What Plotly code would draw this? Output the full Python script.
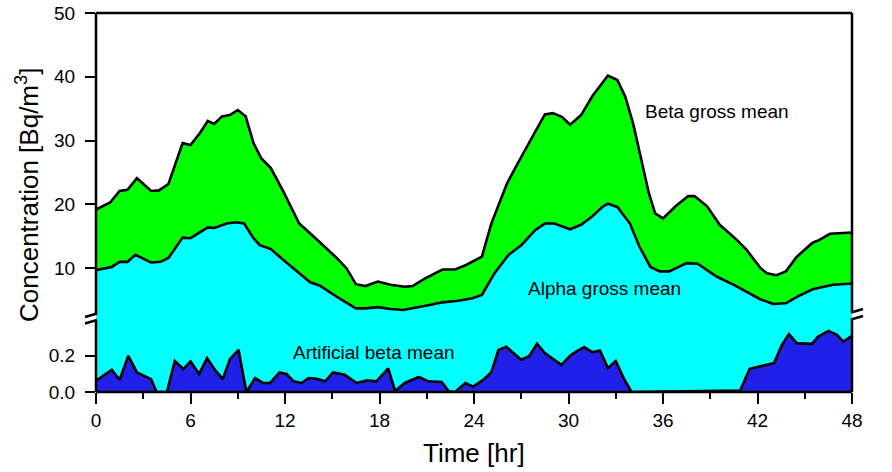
import plotly.graph_objects as go

# ---- data ----
t_beta = [0, 0.9, 1.5, 2.0, 2.6, 3.5, 4.0, 4.6, 5.5, 6.0, 6.6, 7.1, 7.5, 8.0, 8.5, 9.0, 9.5,
          10.0, 10.5, 11.1, 11.9, 12.9, 13.8, 15.2, 15.9, 16.5, 17.1, 17.9, 18.7, 19.6, 20.1,
          20.9, 22.0, 22.8, 23.5, 24.5, 25.1, 26.1, 26.9, 27.7, 28.5, 29.0, 29.6, 30.1, 30.8,
          31.5, 32.2, 32.5, 33.1, 33.6, 34.1, 34.6, 35.1, 35.5, 36.0, 36.8, 37.6, 38.0, 38.8,
          39.6, 40.7, 41.3, 42.2, 42.6, 43.2, 43.8, 44.5, 45.5, 45.9, 46.6, 48.0]
beta_gross = [19.2, 20.3, 22.1, 22.3, 24.1, 22.1, 22.2, 23.2, 29.6, 29.3, 31.2, 33.1, 32.6, 33.8,
              34.0, 34.8, 33.8, 29.6, 27.2, 25.7, 22.0, 17.0, 15.0, 11.8, 10.0, 7.5, 7.2, 7.9,
              7.4, 7.1, 7.2, 8.4, 9.8, 9.8, 10.5, 11.8, 17.0, 23.3, 27.0, 30.6, 34.1, 34.3, 33.7,
              32.5, 34.0, 36.9, 39.3, 40.2, 39.5, 36.9, 32.7, 27.0, 21.8, 18.6, 17.8, 19.7, 21.3,
              21.3, 19.7, 16.8, 14.4, 12.9, 10.0, 9.2, 8.9, 9.5, 11.8, 14.0, 14.4, 15.4, 15.6]

t_alpha = [0, 1.0, 1.5, 2.0, 2.5, 3.5, 4.1, 4.6, 5.5, 6.0, 7.1, 7.5, 8.3, 8.9, 9.4, 10.0, 10.4,
           11.1, 11.9, 12.9, 13.6, 14.2, 15.3, 16.5, 17.1, 17.9, 18.7, 19.5, 20.1, 21.1, 22.0,
           23.0, 23.9, 24.5, 25.3, 26.2, 27.0, 27.9, 28.5, 29.1, 30.1, 30.8, 31.5, 32.2, 32.5,
           33.1, 33.9, 34.5, 35.2, 35.8, 36.4, 37.5, 38.2, 39.4, 40.5, 41.3, 42.2, 43.0, 43.8,
           44.5, 45.5, 46.8, 48.0]
alpha_gross = [9.7, 10.2, 11.0, 11.0, 12.1, 10.9, 11.0, 11.6, 14.8, 14.7, 16.4, 16.3, 17.0, 17.2,
               17.0, 14.7, 13.6, 13.0, 11.3, 9.2, 7.8, 7.3, 5.5, 3.7, 3.7, 3.9, 3.6, 3.45, 3.7,
               4.2, 4.65, 4.9, 5.3, 5.8, 9.2, 12.1, 13.6, 16.0, 17.0, 17.0, 16.1, 16.8, 18.1,
               19.7, 20.1, 19.6, 17.0, 13.4, 10.2, 9.5, 9.5, 10.8, 10.7, 8.7, 7.4, 6.3, 5.1, 4.4,
               4.5, 5.5, 6.7, 7.4, 7.6]

t_art = [0, 1.0, 1.5, 2.05, 2.6, 3.0, 3.5, 3.85, 4.5, 5.0, 5.55, 6.0, 6.55, 7.05, 7.55, 8.05,
         8.5, 9.05, 9.55, 10.1, 10.6, 11.05, 11.65, 12.1, 12.55, 13.05, 13.5, 14.0, 14.55, 15.05,
         15.8, 16.55, 17.2, 17.8, 18.55, 19.0, 19.6, 20.5, 21.1, 21.95, 22.4, 22.8, 23.45, 23.95,
         24.6, 25.1, 25.55, 26.05, 26.5, 27.0, 27.5, 28.0, 28.5, 29.05, 29.55, 30.1, 30.5, 31.0,
         31.5, 32.0, 32.5, 33.0, 33.5, 34.0, 40.9, 41.5, 42.15, 43.05, 43.55, 44.0, 44.5, 45.45,
         45.85, 46.5, 47.05, 47.45, 48.0]
art_beta = [0.062, 0.123, 0.068, 0.2, 0.108, 0.09, 0.071, 0, 0, 0.172, 0.127, 0.169, 0.1, 0.187,
            0.123, 0.071, 0.182, 0.233, 0, 0.077, 0.05, 0.05, 0.108, 0.1, 0.059, 0.05, 0.077,
            0.073, 0.059, 0.108, 0.095, 0.05, 0.064, 0.059, 0.13, 0.005, 0.05, 0.083, 0.059,
            0.055, 0.004, 0, 0.05, 0.03, 0.068, 0.11, 0.232, 0.25, 0.215, 0.178, 0.198, 0.267,
            0.215, 0.182, 0.15, 0.2, 0.224, 0.248, 0.22, 0.23, 0.132, 0.172, 0.077, 0, 0.008,
            0.128, 0.141, 0.16, 0.26, 0.32, 0.27, 0.266, 0.306, 0.338, 0.316, 0.279, 0.31]

x_ticks = [0, 6, 12, 18, 24, 30, 36, 42, 48]
y_upper_ticks = [10, 20, 30, 40, 50]
y_lower_ticks = [0.0, 0.2]

GREEN = "#00FF00"
CYAN = "#00FFFF"
BLUE = "#2020E8"
FONT = "Arial, Liberation Sans, sans-serif"

fig = go.Figure()
line = dict(color="black", width=2.6)

# lower panel (y): alpha fills it completely, artificial beta on top
fig.add_trace(go.Scatter(x=t_alpha, y=alpha_gross, fill="tozeroy", fillcolor=CYAN,
                         line=line, mode="lines", xaxis="x", yaxis="y", showlegend=False))
fig.add_trace(go.Scatter(x=t_art, y=art_beta, fill="tozeroy", fillcolor=BLUE,
                         line=line, mode="lines", xaxis="x", yaxis="y", showlegend=False))
# upper panel (y2)
fig.add_trace(go.Scatter(x=t_beta, y=beta_gross, fill="tozeroy", fillcolor=GREEN,
                         line=line, mode="lines", xaxis="x", yaxis="y2", showlegend=False))
fig.add_trace(go.Scatter(x=t_alpha, y=alpha_gross, fill="tozeroy", fillcolor=CYAN,
                         line=line, mode="lines", xaxis="x", yaxis="y2", showlegend=False))

W, H = 892, 472
L, R, T, B = 96, 40, 13, 80
ph = H - T - B
pw = W - L - R
def px(x):  # reference pixel x -> paper
    return (x - L) / pw
def py(y):  # reference pixel y -> paper
    return (H - B - y) / ph

split = py(318)

tickfont = dict(family=FONT, size=19, color="black")
fig.update_layout(
    width=W, height=H,
    margin=dict(l=L, r=R, t=T, b=B, pad=0, autoexpand=False),
    paper_bgcolor="white", plot_bgcolor="white",
    font=dict(family=FONT, color="black"),
    hovermode=False,
    xaxis=dict(domain=[0, 1], range=[0, 48], anchor="y", tickvals=x_ticks, automargin=False,
               ticks="outside", ticklen=11, tickwidth=2, tickcolor="black",
               ticklabeloverflow="allow",
               showline=False, showgrid=False, zeroline=False, tickfont=tickfont,
               minor=dict(ticks="outside", ticklen=6, tickwidth=2, tickcolor="black",
                          dtick=3, tick0=0, showgrid=False)),
    yaxis=dict(domain=[0, split], range=[0, 0.409], anchor="x", tickvals=y_lower_ticks,
               tickformat=".1f", ticks="outside", ticklen=10, tickwidth=2, tickcolor="black",
               ticklabelstandoff=6, automargin=False, ticklabeloverflow="allow",
               showline=False, showgrid=False, zeroline=False, tickfont=tickfont),
    yaxis2=dict(domain=[split, 1], range=[2.196, 50], anchor="x", tickvals=y_upper_ticks,
                ticks="outside", ticklen=10, tickwidth=2, tickcolor="black",
                ticklabelstandoff=6, automargin=False, ticklabeloverflow="allow",
                showline=False, showgrid=False, zeroline=False, tickfont=tickfont),
)

blk = dict(color="black", width=2.5)
shapes = [
    dict(type="line", xref="paper", yref="paper", x0=0, x1=1, y0=0, y1=0, line=blk),
    dict(type="line", xref="paper", yref="paper", x0=0, x1=1, y0=1, y1=1, line=blk),
    # left axis, broken
    dict(type="line", xref="paper", yref="paper", x0=0, x1=0, y0=0, y1=py(320.5), line=blk),
    dict(type="line", xref="paper", yref="paper", x0=0, x1=0, y0=py(314.5), y1=1, line=blk),
    dict(type="line", xref="paper", yref="paper", x0=px(85), x1=px(97), y0=py(317), y1=py(313.5), line=blk),
    dict(type="line", xref="paper", yref="paper", x0=px(85), x1=px(97), y0=py(323.5), y1=py(320), line=blk),
    # right axis, broken
    dict(type="line", xref="paper", yref="paper", x0=1, x1=1, y0=0, y1=py(319), line=blk),
    dict(type="line", xref="paper", yref="paper", x0=1, x1=1, y0=py(312), y1=1, line=blk),
    dict(type="line", xref="paper", yref="paper", x0=px(851), x1=px(863), y0=py(312.5), y1=py(309), line=blk),
    dict(type="line", xref="paper", yref="paper", x0=px(851), x1=px(863), y0=py(319.5), y1=py(316), line=blk),
]
fig.update_layout(shapes=shapes)

ann_font = dict(family=FONT, size=19, color="black")
fig.add_annotation(text="Beta gross mean", xref="paper", yref="paper", x=px(717), y=py(111),
                   showarrow=False, font=ann_font, xanchor="center", yanchor="middle")
fig.add_annotation(text="Alpha gross mean", xref="paper", yref="paper", x=px(604), y=py(288),
                   showarrow=False, font=ann_font, xanchor="center", yanchor="middle")
fig.add_annotation(text="Artificial beta mean", xref="paper", yref="paper", x=px(373.5), y=py(352),
                   showarrow=False, font=ann_font, xanchor="center", yanchor="middle")
fig.add_annotation(text="Time [hr]", xref="paper", yref="paper", x=px(474), y=py(453),
                   showarrow=False, font=dict(family=FONT, size=26, color="black"),
                   xanchor="center", yanchor="middle")
fig.add_annotation(text="Concentration [Bq/m<sup>3</sup>]", xref="paper", yref="paper",
                   x=px(27), y=py(195), textangle=-90, showarrow=False,
                   font=dict(family=FONT, size=26, color="black"),
                   xanchor="center", yanchor="middle")

# remove the browser's default 8px body margin so the figure sits at the page origin
fig.write_html("out.html", config={"displayModeBar": False, "staticPlot": True},
               post_script="document.body.style.margin='0px';")
